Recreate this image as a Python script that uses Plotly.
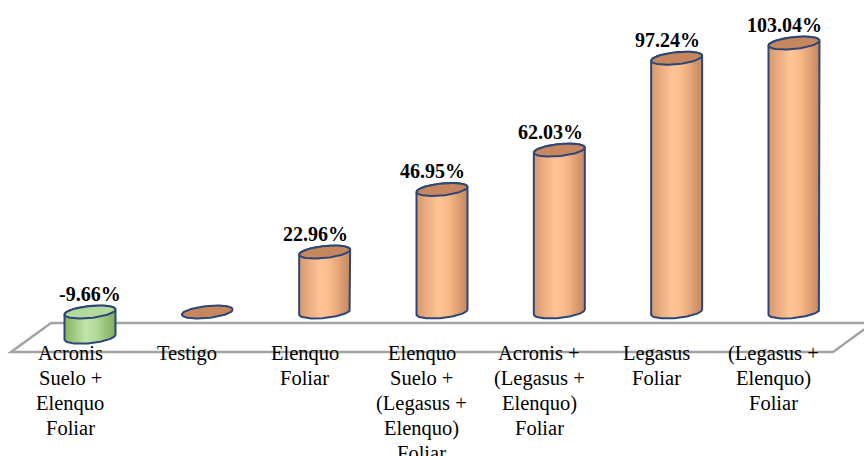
import numpy as np
import plotly.graph_objects as go

# Treatments and their percentage change
categories = [
    ["Acronis", "Suelo +", "Elenquo", "Foliar"],
    ["Testigo"],
    ["Elenquo", "Foliar"],
    ["Elenquo", "Suelo +", "(Legasus +", "Elenquo)", "Foliar"],
    ["Acronis +", "(Legasus +", "Elenquo)", "Foliar"],
    ["Legasus", "Foliar"],
    ["(Legasus +", "Elenquo)", "Foliar"],
]
values = [-9.66, 0.0, 22.96, 46.95, 62.03, 97.24, 103.04]

W, H = 864, 456
SERIF = "Times New Roman, Liberation Serif, serif"

# pixel scale of the axes
X0_PX, DX_PX = 90.0, 117.33      # centre of first category, spacing
Y0_PX, DY_PX = 312.0, 2.61       # baseline pixel, pixels per percent

x_range = [(0 - X0_PX) / DX_PX, (W - X0_PX) / DX_PX]
y_range = [(Y0_PX - H) / DY_PX, Y0_PX / DY_PX]

def px_x(p):
    return p / DX_PX

def px_y(p):
    return p / DY_PX

# cylinder shape in axis units
A = px_x(25.5)       # half width
B = px_y(6.0)        # half height of the ellipse
TILT = px_y(2.5)     # perspective tilt of the ellipses

ORANGE_BODY = [[0, "#D9986E"], [0.42, "#FFC496"], [0.6, "#FBBC8B"], [1, "#C4865E"]]
ORANGE_TOP = "#C6875F"
GREEN_BODY = [[0, "#86B463"], [0.42, "#C0E4A8"], [0.6, "#B5DC9B"], [1, "#7FAD5C"]]
GREEN_TOP = "#B3DA9A"
EDGE = "#2C4777"

fig = go.Figure()

def ellipse(cx, cy, t):
    return cx + A * np.cos(t), cy + B * np.sin(t) + TILT * np.cos(t)

for i, v in enumerate(values):
    top = max(v, 0.0)
    bot = min(v, 0.0)
    neg = v < 0
    body_cs = GREEN_BODY if neg else ORANGE_BODY
    top_col = GREEN_TOP if neg else ORANGE_TOP

    if top != bot:
        # side of the cylinder: back half of the top rim, front half of the bottom rim
        xb1, yb1 = ellipse(i, top, np.linspace(np.pi, 0, 60))
        xb2, yb2 = ellipse(i, bot, np.linspace(0, -np.pi, 60))
        xs = np.concatenate([xb1, xb2, xb1[:1]])
        ys = np.concatenate([yb1, yb2, yb1[:1]])
        fig.add_trace(go.Scatter(
            x=xs, y=ys, mode="lines", fill="toself",
            fillgradient=dict(type="horizontal", colorscale=body_cs),
            line=dict(color=EDGE, width=2),
            hoverinfo="skip", showlegend=False,
        ))

    # cap
    xe, ye = ellipse(i, top, np.linspace(0, 2 * np.pi, 100))
    fig.add_trace(go.Scatter(
        x=xe, y=ye, mode="lines", fill="toself", fillcolor=top_col,
        line=dict(color=EDGE, width=2),
        hoverinfo="skip", showlegend=False,
    ))

# value labels
for i, v in enumerate(values):
    if v == 0:
        continue
    dx = 0 if v < 0 else -px_x(9)
    fig.add_annotation(
        x=i + dx, y=max(v, 0) + px_y(18),
        text=f"<b>{v:.2f}%</b>", showarrow=False,
        xanchor="center", yanchor="middle",
        font=dict(family=SERIF, size=20, color="#000000"),
    )

# category labels on the front of the floor, one annotation per line
LINE_PX = 25.0
FIRST_LINE_PX = 353.0
LABEL_SHIFT = -px_x(20)
for i, lines in enumerate(categories):
    for k, line in enumerate(lines):
        yp = FIRST_LINE_PX + k * LINE_PX
        fig.add_annotation(
            x=i + LABEL_SHIFT, y=(Y0_PX - yp) / DY_PX,
            text=line, showarrow=False,
            xanchor="center", yanchor="middle",
            font=dict(family=SERIF, size=20.5, color="#000000"),
        )

# floor plane
back_y = (Y0_PX - 323) / DY_PX
front_y = (Y0_PX - 352) / DY_PX
bl, br = (51 - X0_PX) / DX_PX, (873 - X0_PX) / DX_PX
fl, fr = (11 - X0_PX) / DX_PX, (833 - X0_PX) / DX_PX
fig.add_shape(
    type="path",
    path=f"M {bl} {back_y} L {br} {back_y} L {fr} {front_y} L {fl} {front_y} Z",
    line=dict(color="#A3A3A3", width=2.5), fillcolor="rgba(0,0,0,0)",
    layer="below",
)

fig.update_layout(
    width=W, height=H,
    margin=dict(l=0, r=0, t=0, b=0),
    paper_bgcolor="white", plot_bgcolor="white",
    font=dict(family=SERIF),
    xaxis=dict(range=x_range, visible=False, fixedrange=True),
    yaxis=dict(range=y_range, visible=False, fixedrange=True),
    showlegend=False,
)

fig.write_html("out.html")
